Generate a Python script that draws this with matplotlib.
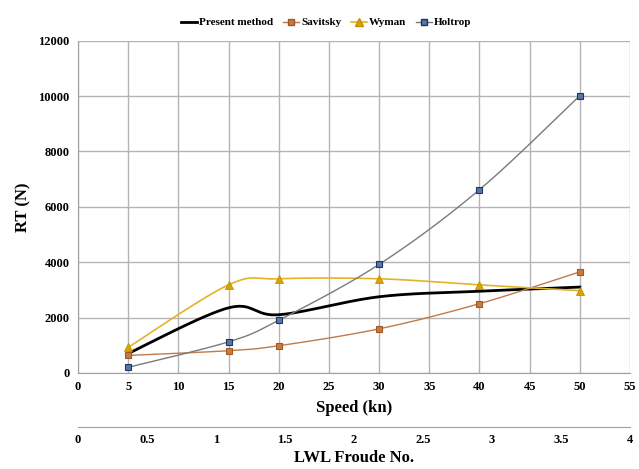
import numpy as np
import matplotlib
matplotlib.use("Agg")
import matplotlib.pyplot as plt

plt.rcParams['font.family'] = ['Liberation Serif', 'DejaVu Serif']
plt.rcParams['font.weight'] = 'bold'

# data
speed = [5, 15, 20, 30, 40, 50]
present = [700, 2350, 2100, 2750, 2950, 3100]
savitsky = [630, 800, 980, 1590, 2500, 3650]
wyman = [920, 3180, 3400, 3400, 3180, 2970]
holtrop = [200, 1120, 1900, 3920, 6620, 10020]
froude_ticks = [0, 0.5, 1, 1.5, 2, 2.5, 3, 3.5, 4]


def smooth(x, y, n=30):
    # excel-like smoothed line (bezier through the points)
    p = np.column_stack([x, y]).astype(float)
    pts = np.vstack([p[0], p, p[-1]])
    out = []
    for i in range(1, len(pts) - 2):
        p0, p1, p2, p3 = pts[i - 1], pts[i], pts[i + 1], pts[i + 2]
        c1 = p1 + (p2 - p0) / 6
        c2 = p2 - (p3 - p1) / 6
        t = np.linspace(0, 1, n)[:, None]
        seg = (1 - t) ** 3 * p1 + 3 * (1 - t) ** 2 * t * c1 + 3 * (1 - t) * t ** 2 * c2 + t ** 3 * p2
        out.append(seg if i == 1 else seg[1:])
    s = np.vstack(out)
    return s[:, 0], s[:, 1]


fig = plt.figure(figsize=(6.39, 4.69), dpi=100)
ax = fig.add_axes([0.122, 0.205, 0.864, 0.708])

sx, sy = smooth(speed, present)
ax.plot(sx, sy, color='black', lw=2.0, label='Present method')

sx, sy = smooth(speed, savitsky)
ax.plot(sx, sy, color='#c07a4a', lw=1.0)
ax.plot(speed, savitsky, ls='none', marker='s', ms=5, mfc='#cc7a3a', mec='#9a5a2a', mew=0.8)
ax.plot([], [], color='#c07a4a', lw=1.0, marker='s', ms=5, mfc='#cc7a3a', mec='#9a5a2a', label='Savitsky')

sx, sy = smooth(speed, wyman)
ax.plot(sx, sy, color='#e2b425', lw=1.2)
ax.plot(speed, wyman, ls='none', marker='^', ms=6, mfc='#d9a300', mec='#c09000', mew=0.6)
ax.plot([], [], color='#e2b425', lw=1.2, marker='^', ms=6, mfc='#d9a300', mec='#c09000', label='Wyman')

sx, sy = smooth(speed, holtrop)
ax.plot(sx, sy, color='#7a7a7a', lw=1.0)
ax.plot(speed, holtrop, ls='none', marker='s', ms=5, mfc='#5877a6', mec='#1f3560', mew=0.8)
ax.plot([], [], color='#7a7a7a', lw=1.0, marker='s', ms=5, mfc='#5877a6', mec='#1f3560', label='Holtrop')

ax.set_xlim(0, 55)
ax.set_ylim(0, 12000)
ax.set_xticks(np.arange(0, 56, 5))
ax.set_yticks(np.arange(0, 12001, 2000))
ax.grid(True, color='#b4b4b4', lw=1.0)
ax.set_axisbelow(True)
for s in ['top', 'right']:
    ax.spines[s].set_visible(False)
for s in ['left', 'bottom']:
    ax.spines[s].set_color('#a0a0a0')
ax.tick_params(length=0, labelsize=9, pad=6)
ax.set_xlabel('Speed (kn)', fontsize=12, fontweight='bold', labelpad=5)
ax.set_ylabel('RT (N)', fontsize=12, fontweight='bold', labelpad=5)

ax.legend(loc='lower center', bbox_to_anchor=(0.45, 1.0), ncol=4, frameon=False,
          fontsize=8, handlelength=1.4, handletextpad=0.2, columnspacing=0.9,
          borderaxespad=0.8)

ax2 = ax.twiny()
ax2.set_xlim(0, 4)
ax2.set_xticks(froude_ticks)
ax2.set_xticklabels([f'{v:g}' for v in froude_ticks])
ax2.xaxis.set_ticks_position('bottom')
ax2.xaxis.set_label_position('bottom')
ax2.spines['bottom'].set_position(('outward', 39))
ax2.spines['bottom'].set_color('#a0a0a0')
for s in ['top', 'left', 'right']:
    ax2.spines[s].set_visible(False)
ax2.tick_params(length=0, labelsize=9, pad=5)
ax2.set_xlabel('LWL Froude No.', fontsize=12, fontweight='bold', labelpad=3)

fig.savefig('out.png', dpi=100)
